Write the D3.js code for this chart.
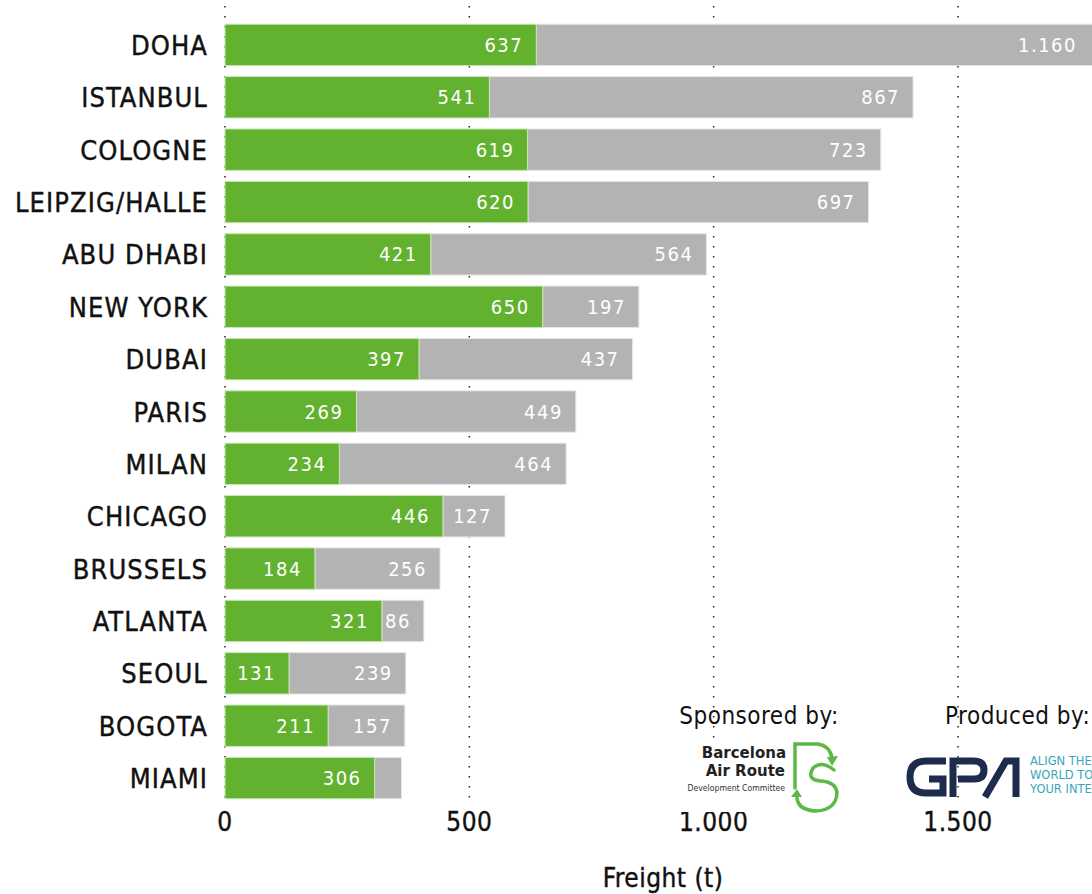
<!DOCTYPE html>
<html>
<head>
<meta charset="utf-8">
<script src="https://cdn.jsdelivr.net/npm/d3@7"></script>
<style>
  body { margin: 0; background: #fff; }
  svg { display: block; font-family: "DejaVu Sans Condensed", "DejaVu Sans", sans-serif; }
</style>
</head>
<body>
<div id="chart"></div>
<script>
const cities = ["DOHA", "ISTANBUL", "COLOGNE", "LEIPZIG/HALLE", "ABU DHABI", "NEW YORK", "DUBAI",
  "PARIS", "MILAN", "CHICAGO", "BRUSSELS", "ATLANTA", "SEOUL", "BOGOTA", "MIAMI"];
const greenValues = [637, 541, 619, 620, 421, 650, 397, 269, 234, 446, 184, 321, 131, 211, 306];
const grayValues = [1160, 867, 723, 697, 564, 197, 437, 449, 464, 127, 256, 86, 239, 157, 55];
const xTicks = [0, 500, 1000, 1500];

const W = 1092, H = 894;
const green = "#62b22f", gray = "#b3b3b3";

const locale = d3.formatLocale({ decimal: ",", thousands: ".", grouping: [3], currency: ["", ""] });
const fmt = locale.format(",d");

const svg = d3.select("#chart").append("svg").attr("width", W).attr("height", H);

const x = d3.scaleLinear().domain([0, 1500]).range([225, 958]);
const y = d3.scaleBand().domain(cities).range([19, 804]).paddingInner(0.21).paddingOuter(0.1);

// dotted grid
svg.append("g").selectAll("line").data(xTicks).join("line")
  .attr("x1", d => x(d)).attr("x2", d => x(d))
  .attr("y1", 6).attr("y2", 800)
  .attr("stroke", "#222").attr("stroke-width", 1.5)
  .attr("stroke-dasharray", "1.5,8.5");

const rows = cities.map((c, i) => ({ city: c, g: greenValues[i], r: grayValues[i] }));

const bars = svg.append("g");
// gray segment
bars.selectAll(".gray").data(rows).join("rect")
  .attr("x", d => x(d.g)).attr("y", d => y(d.city))
  .attr("width", d => x(d.g + d.r) - x(d.g)).attr("height", y.bandwidth())
  .attr("fill", gray).attr("stroke", "#e6e6e6").attr("stroke-width", 1);
// green segment
bars.selectAll(".green").data(rows).join("rect")
  .attr("x", x(0)).attr("y", d => y(d.city))
  .attr("width", d => x(d.g) - x(0)).attr("height", y.bandwidth())
  .attr("fill", green).attr("stroke", "#c9e4b6").attr("stroke-width", 1);

// value labels
const lab = svg.append("g").attr("fill", "#fff").attr("font-size", 20).attr("text-anchor", "end")
  .attr("letter-spacing", 1.5);
lab.selectAll(".gl").data(rows).join("text")
  .attr("x", d => x(d.g) - 13).attr("y", d => y(d.city) + y.bandwidth() / 2 + 7)
  .text(d => fmt(d.g));
lab.selectAll(".rl").data(rows.filter(d => d.r > 60)).join("text")
  .attr("x", d => Math.min(x(d.g + d.r), W - 2) - 13).attr("y", d => y(d.city) + y.bandwidth() / 2 + 7)
  .text(d => fmt(d.r));

// category labels
svg.append("g").selectAll("text").data(cities).join("text")
  .attr("x", 208).attr("y", d => y(d) + y.bandwidth() / 2 + 10)
  .attr("text-anchor", "end").attr("font-size", 27).attr("letter-spacing", 1.1)
  .attr("fill", "#111").attr("stroke", "#111").attr("stroke-width", 0.4)
  .text(d => d);

// x axis labels
svg.append("g").selectAll("text").data(xTicks).join("text")
  .attr("x", d => x(d)).attr("y", 831)
  .attr("text-anchor", "middle").attr("font-size", 26).attr("letter-spacing", 0.5)
  .attr("fill", "#111").attr("stroke", "#111").attr("stroke-width", 0.4)
  .text(d => fmt(d));
svg.append("text").attr("x", 663).attr("y", 887).attr("text-anchor", "middle")
  .attr("font-size", 26).attr("letter-spacing", 0.5)
  .attr("fill", "#111").attr("stroke", "#111").attr("stroke-width", 0.4).text("Freight (t)");

// sponsor / producer
svg.append("text").attr("x", 759).attr("y", 724).attr("text-anchor", "middle")
  .attr("font-size", 24).attr("fill", "#111").attr("letter-spacing", 0.5).text("Sponsored by:");
svg.append("text").attr("x", 945).attr("y", 724)
  .attr("font-size", 24).attr("fill", "#111").attr("letter-spacing", 0.5).text("Produced by:");

// Barcelona Air Route logo
const bl = svg.append("g");
bl.append("rect").attr("x", 676).attr("y", 738).attr("width", 168).attr("height", 74).attr("fill", "#fff");
bl.append("text").attr("x", 786).attr("y", 758).attr("text-anchor", "end")
  .attr("font-family", "DejaVu Sans, sans-serif").attr("font-weight", "bold").attr("font-size", 15)
  .attr("fill", "#222").text("Barcelona");
bl.append("text").attr("x", 785).attr("y", 776).attr("text-anchor", "end")
  .attr("font-family", "DejaVu Sans, sans-serif").attr("font-weight", "bold").attr("font-size", 15)
  .attr("fill", "#222").text("Air Route");
bl.append("text").attr("x", 785).attr("y", 791).attr("text-anchor", "end")
  .attr("font-family", "DejaVu Sans Condensed, sans-serif").attr("font-size", 8.6)
  .attr("fill", "#333").text("Development Committee");
bl.append("path")
  .attr("d", "M795,788 L795,744 L818,744 Q830,746 832,758 M834,770 Q822,760 813,768 Q806,780 821,781 Q836,782 837,793 Q836,810 816,811 Q798,810 797,798")
  .attr("fill", "none").attr("stroke", "#5cb946").attr("stroke-width", 3.5).attr("stroke-linecap", "round");
bl.append("path").attr("d", "M827,757 L838,756 L832,766 Z").attr("fill", "#5cb946");
bl.append("path").attr("d", "M791,797 L802,797 L797,789 Z").attr("fill", "#5cb946");

// GPA logo
const navy = "#1d2c4c";
const gp = svg.append("g").attr("fill", "none").attr("stroke", navy).attr("stroke-width", 7);
gp.append("path").attr("d", "M946,761 L926,761 Q910,761 910,777 Q910,793 926,793 L943,793 L943,779 L929,779");
gp.append("path").attr("d", "M953,797 L953,761 L974,761 Q984,761 984,770 Q984,779 974,779 L958,779");
gp.append("path").attr("d", "M985,797 L1006,761 L1016,761 L1016,797");
const gpaText = ["ALIGN THE", "WORLD TO", "YOUR INTE"];
svg.append("g").selectAll("text").data(gpaText).join("text")
  .attr("x", 1030).attr("y", (d, i) => 765 + i * 14)
  .attr("font-family", "DejaVu Sans, sans-serif").attr("font-size", 11.5)
  .attr("fill", "#3aa6b9").text(d => d);
</script>
</body>
</html>
